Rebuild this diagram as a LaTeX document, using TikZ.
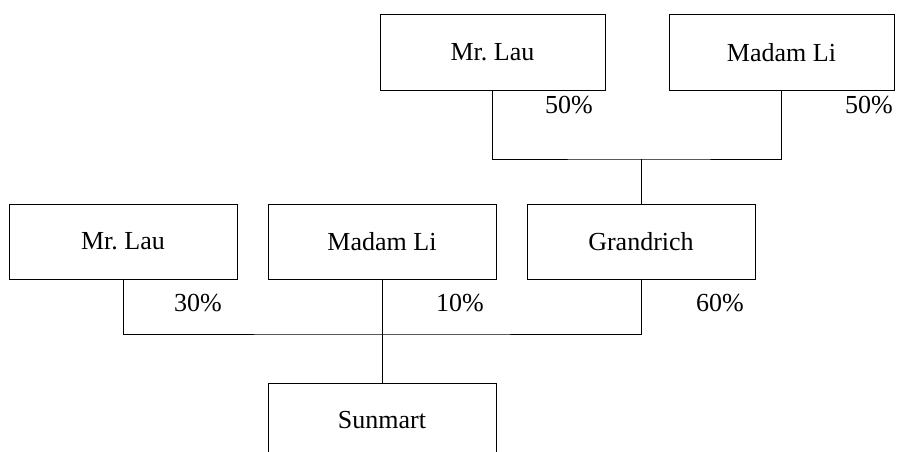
\documentclass[tikz,border=0pt]{standalone}
\usepackage{fontspec}
\setmainfont{Liberation Serif}
\begin{document}
\frenchspacing
\begin{tikzpicture}[x=1pt,y=-1pt,
  box/.style={draw, line width=1pt, rectangle, minimum width=228pt, minimum height=75pt, inner sep=0pt, font=\fontsize{26}{30}\selectfont},
  topbox/.style={box, minimum width=225pt},
  pct/.style={inner sep=0pt, font=\fontsize{26}{30}\selectfont},
  link/.style={line width=1pt}]
\useasboundingbox (0,0) rectangle (899,452);
\node[topbox] (lauA) at (492.5,52.5) {Mr. Lau};
\node[topbox] (liA) at (781.5,52.5) {Madam Li};
\node[box] (lauB) at (123,241.5) {Mr. Lau};
\node[box] (liB) at (382,241.5) {Madam Li};
\node[box] (grand) at (641,241.5) {Grandrich};
\node[box] (sun) at (382,420.5) {Sunmart};
\coordinate (jt) at (641,159);
\coordinate (jb) at (382,334);
\draw[link] (lauA.south) |- (jt) -| (liA.south);
\draw[link] (jt) -- (grand.north);
\draw[link] (lauB.south) |- (jb) -| (grand.south);
\draw[link] (liB.south) -- (sun.north);
\node[pct] (p1) at (569,105) {50\%};
\node[pct] (p2) at (869,105) {50\%};
\node[pct] (p3) at (198,303) {30\%};
\node[pct] (p4) at (460,303) {10\%};
\node[pct] (p5) at (720,303) {60\%};
\end{tikzpicture}
\end{document}
